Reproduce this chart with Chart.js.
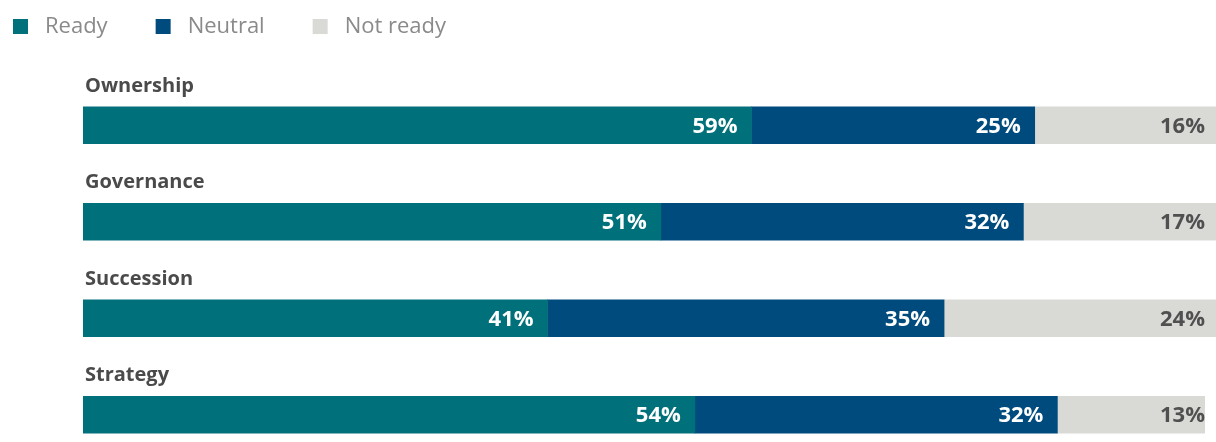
<!DOCTYPE html>
<html>
<head>
<meta charset="utf-8">
<title>Readiness</title>
<script src="https://cdn.jsdelivr.net/npm/chart.js@4"></script>
<style>
  html, body { margin: 0; padding: 0; background: #fff; overflow: hidden; }
  #wrap { position: relative; width: 1216px; height: 463px; }
</style>
</head>
<body>
<div id="wrap"><canvas id="readyChart"></canvas></div>
<script>
/* ==========================
   data
   ========================== */
const categories = ['Ownership', 'Governance', 'Succession', 'Strategy'];
const seriesNames = ['Ready', 'Neutral', 'Not ready'];
const readyValues = [59, 51, 41, 54];
const neutralValues = [25, 32, 35, 32];
const notReadyValues = [16, 17, 24, 13];

const seriesColors = ['#00717a', '#004b7d', '#d9d9d6'];
const FONT = '"Open Sans", "DejaVu Sans", sans-serif';

/* ==========================
   legend at top left (drawn by hand)
   ========================== */
const topLegend = {
  id: 'topLegend',
  afterDraw(chart) {
    const ctx = chart.ctx;
    ctx.save();
    ctx.font = '22px ' + FONT;
    ctx.textBaseline = 'middle';
    let x = 13;
    const y = 27;
    chart.data.datasets.forEach(ds => {
      ctx.fillStyle = ds.backgroundColor;
      ctx.fillRect(x, y - 8, 15, 15);
      x += 15 + 17;
      ctx.fillStyle = '#8a8a8a';
      ctx.fillText(ds.label, x, y);
      x += ctx.measureText(ds.label).width + 48;
    });
    ctx.restore();
  }
};

/* ==========================
   category titles + value labels
   ========================== */
const barLabels = {
  id: 'barLabels',
  afterDatasetsDraw(chart) {
    const ctx = chart.ctx;
    const xs = chart.scales.x;
    const last = chart.data.datasets.length - 1;
    ctx.save();

    // title above each bar
    const first = chart.getDatasetMeta(0).data;
    ctx.font = 'bold 20px ' + FONT;
    ctx.textAlign = 'left';
    ctx.textBaseline = 'alphabetic';
    ctx.fillStyle = '#4a4a4a';
    first.forEach((bar, i) => {
      const top = bar.y - bar.height / 2;
      ctx.fillText(chart.data.labels[i], 85, top - 15);
    });

    // percentages at the right end of each segment
    ctx.font = 'bold 22px ' + FONT;
    ctx.textAlign = 'right';
    ctx.textBaseline = 'middle';
    chart.data.datasets.forEach((ds, d) => {
      chart.getDatasetMeta(d).data.forEach((bar, i) => {
        let x = bar.x - 14;
        ctx.fillStyle = '#ffffff';
        if (d === last) {
          x = xs.getPixelForValue(100) - 11;
          ctx.fillStyle = '#505050';
        }
        ctx.fillText(ds.data[i] + '%', x, bar.y + 1);
      });
    });
    ctx.restore();
  }
};

const valueLists = [readyValues, neutralValues, notReadyValues];

new Chart(document.getElementById('readyChart'), {
  type: 'bar',
  data: {
    labels: categories,
    datasets: seriesNames.map((name, i) => ({
      label: name,
      data: valueLists[i],
      backgroundColor: seriesColors[i],
      borderWidth: 0,
      barThickness: 37
    }))
  },
  options: {
    indexAxis: 'y',
    responsive: true,
    maintainAspectRatio: false,
    animation: false,
    layout: { padding: { left: 83, right: 0, top: 77, bottom: 0 } },
    scales: {
      x: { stacked: true, min: 0, max: 100, display: false },
      y: { stacked: true, display: false }
    },
    plugins: {
      legend: { display: false },
      tooltip: { enabled: false }
    }
  },
  plugins: [topLegend, barLabels]
});
</script>
</body>
</html>
